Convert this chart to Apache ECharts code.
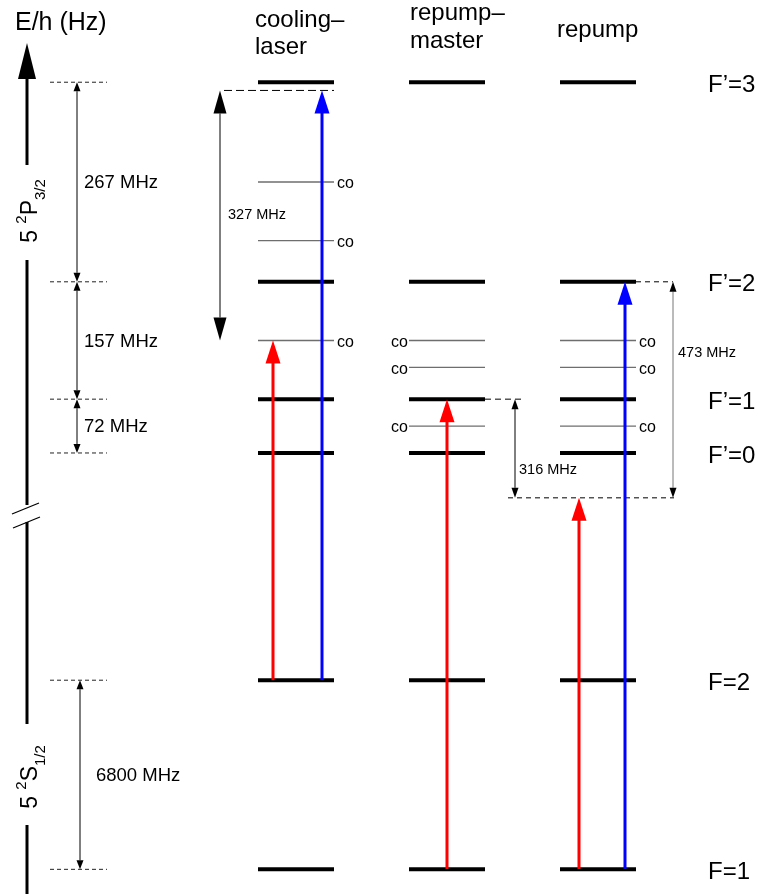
<!DOCTYPE html>
<html>
<head>
<meta charset="utf-8">
<script src="https://cdn.jsdelivr.net/npm/echarts@6/dist/echarts.min.js"></script>
<style>
html, body { margin: 0; padding: 0; background: #fff; }
#chart { width: 760px; height: 894px; }
</style>
</head>
<body>
<div id="chart"></div>
<script>
// energy in diagram units: MHz below F'=3 for 5P3/2, 5S1/2 sits below the axis break
const levelNames = ['F’=3', 'F’=2', 'F’=1', 'F’=0', 'F=2', 'F=1'];
const levelY = [0, -267, -424, -496, -800, -1053];

const columnNames = [['cooling–', 'laser'], ['repump–', 'master'], ['repump']];
const columnX = [296, 447, 598];

// hyperfine spacings on the left
const gapFrom = [0, 1, 2, 4];
const gapTo = [1, 2, 3, 5];
const gapText = ['267 MHz', '157 MHz', '72 MHz', '6800 MHz'];

// crossover resonances (co)
const coY = [-133.5, -212, -345.5, -345.5, -381.5, -460, -345.5, -381.5, -460];
const coCol = [0, 0, 0, 1, 1, 1, 2, 2, 2];

// laser transitions
const laserCol = [0, 0, 1, 2, 2];
const laserFrom = [-800, -800, -1053, -1053, -1053];
const laserTo = [-345.5, -11, -424, -556, -267];
const laserColor = ['#ff0000', '#0000ff', '#ff0000', '#ff0000', '#0000ff'];

// detunings
const detText = ['327 MHz', '316 MHz', '473 MHz'];
const detFrom = [-11, -424, -267];
const detTo = [-345.5, -556, -556];

// layout only
const FONT = '"Liberation Sans", Arial, Helvetica, sans-serif';
const layout = {
  halfLevel: 38,
  labelX: 708,
  guideX: [50, 107],
  gapX: [77, 77, 77, 80],
  laserDx: [-23, 26, 0, -19, 27],
  detX: [220, 515, 673],
  detHead: [[13, 23], [7, 10], [7, 10]],
  detLabel: [[8, 0.5], [4, 0.72], [5, 0.33]],
  detStroke: ['#000', '#000', '#777'],
  // [y, x1, x2, dash] dashed helper lines for detunings
  detDash: [[-11, 224, 334, [8, 4]], [-424, 485, 523, [6, 4]], [-556, 508, 674, [5, 4]], [-267, 636, 673, [5, 4]]]
};

function seg(a, b, stroke, lw, dash) {
  return { type: 'line', shape: { x1: a[0], y1: a[1], x2: b[0], y2: b[1] },
    style: { stroke: stroke, lineWidth: lw, lineDash: dash || null, lineCap: 'butt' } };
}
function head(tip, dir, w, len, fill) {
  // dir -1 points up, +1 points down
  return { type: 'polygon', shape: { points: [[tip[0], tip[1]], [tip[0] - w / 2, tip[1] - dir * len], [tip[0] + w / 2, tip[1] - dir * len]] },
    style: { fill: fill } };
}
function txt(x, y, s, size, align, extra) {
  return { type: 'text', x: x, y: y, style: Object.assign({ text: s, fill: '#000', fontSize: size, fontFamily: FONT,
    align: align || 'left', verticalAlign: 'middle' }, extra || {}) };
}
function dimArrow(x, ya, yb, w, len, stroke) {
  const top = Math.min(ya, yb), bot = Math.max(ya, yb);
  return [seg([x, top + len], [x, bot - len], stroke, 1), head([x, top], -1, w, len, '#000'), head([x, bot], 1, w, len, '#000')];
}
function header(x, y, s) {
  return { type: 'text', silent: true, x: x, y: y, style: { text: s, fontSize: 24, fontFamily: FONT, fill: '#000', verticalAlign: 'middle' } };
}
function stateLabel(y, term, sub) {
  const rich = {
    a: { fontSize: 23, lineHeight: 34, fontFamily: FONT },
    b: { fontSize: 15, lineHeight: 15, verticalAlign: 'top', fontFamily: FONT },
    c: { fontSize: 15, lineHeight: 15, verticalAlign: 'bottom', fontFamily: FONT }
  };
  return { type: 'text', silent: true, x: 31, y: y, rotation: Math.PI / 2,
    style: { text: '{a|5 }{b|2}{a|' + term + '}{c|' + sub + '}', align: 'center', verticalAlign: 'middle', fontFamily: FONT, rich: rich } };
}

const levelData = [];
columnX.forEach(function (cx) { levelY.forEach(function (y) { levelData.push([cx, y]); }); });

const chart = echarts.init(document.getElementById('chart'));

const option = {
  animation: false,
  grid: { left: 0, right: 0, top: 0, bottom: 0 },
  xAxis: { type: 'value', min: 0, max: 760, show: false },
  yAxis: { type: 'value', min: -1086, max: 110, show: false },
  series: [
    { // left dashed guides
      type: 'custom', silent: true, clip: false,
      data: levelY.map(function (y) { return [layout.guideX[0], y]; }),
      renderItem: function (params, api) {
        const a = api.coord([layout.guideX[0], api.value(1)]);
        const b = api.coord([layout.guideX[1], api.value(1)]);
        return seg(a, b, '#222', 1, [4, 3]);
      }
    },
    { // spacing arrows
      type: 'custom', silent: true, clip: false,
      data: gapText.map(function (t, i) { return [layout.gapX[i], levelY[gapFrom[i]], levelY[gapTo[i]], i]; }),
      renderItem: function (params, api) {
        const i = api.value(3);
        const a = api.coord([api.value(0), api.value(1)]);
        const b = api.coord([api.value(0), api.value(2)]);
        const kids = dimArrow(a[0], a[1], b[1], 7, 9, '#000');
        const dx = i === 3 ? 16 : 7;
        kids.push(txt(a[0] + dx, (a[1] + b[1]) / 2 + 1, gapText[i], 18.5));
        return { type: 'group', children: kids };
      }
    },
    { // hyperfine levels
      type: 'custom', silent: true, clip: false,
      data: levelData,
      renderItem: function (params, api) {
        const p = api.coord([api.value(0), api.value(1)]);
        return seg([p[0] - layout.halfLevel, p[1]], [p[0] + layout.halfLevel, p[1]], '#000', 4);
      }
    },
    { // crossover lines
      type: 'custom', silent: true, clip: false,
      data: coY.map(function (y, i) { return [columnX[coCol[i]], y, coCol[i]]; }),
      renderItem: function (params, api) {
        const p = api.coord([api.value(0), api.value(1)]);
        const h = layout.halfLevel;
        const left = api.value(2) === 1;
        return { type: 'group', children: [
          seg([p[0] - h, p[1]], [p[0] + h, p[1]], '#6e6e6e', 1.3),
          left ? txt(p[0] - h - 1, p[1] + 2, 'co', 16, 'right') : txt(p[0] + h + 3, p[1] + 2, 'co', 16, 'left')
        ] };
      }
    },
    { // level labels
      type: 'custom', silent: true, clip: false,
      data: levelY.map(function (y, i) { return [layout.labelX, y, i]; }),
      renderItem: function (params, api) {
        const p = api.coord([api.value(0), api.value(1)]);
        return txt(p[0], p[1] + 3, levelNames[api.value(2)], 24, 'left');
      }
    },
    { // detuning helpers
      type: 'custom', silent: true, clip: false,
      data: detText.map(function (t, i) { return [layout.detX[i], detFrom[i], detTo[i], i]; }),
      renderItem: function (params, api) {
        const i = api.value(3);
        const a = api.coord([api.value(0), api.value(1)]);
        const b = api.coord([api.value(0), api.value(2)]);
        const hs = layout.detHead[i];
        const kids = dimArrow(a[0], a[1], b[1], hs[0], hs[1], layout.detStroke[i]);
        const lb = layout.detLabel[i];
        kids.push(txt(a[0] + lb[0], a[1] + (b[1] - a[1]) * lb[1], detText[i], 14.5));
        if (i === 0) {
          layout.detDash.forEach(function (d) {
            const p1 = api.coord([d[1], d[0]]);
            const p2 = api.coord([d[2], d[0]]);
            kids.push(seg(p1, p2, '#000', 1, d[3]));
          });
        }
        return { type: 'group', children: kids };
      }
    },
    { // laser transitions
      type: 'custom', silent: true, clip: false,
      data: laserCol.map(function (c, i) { return [columnX[c], laserFrom[i], laserTo[i], i]; }),
      renderItem: function (params, api) {
        const i = api.value(3);
        const x = api.coord([api.value(0), 0])[0] + layout.laserDx[i];
        const y0 = api.coord([0, api.value(1)])[1];
        const y1 = api.coord([0, api.value(2)])[1];
        return { type: 'group', children: [
          seg([x, y0], [x, y1 + 20], laserColor[i], 3),
          head([x, y1], -1, 15, 23, laserColor[i])
        ] };
      }
    }
  ],
  graphic: [
    // energy axis with break
    { type: 'polygon', silent: true, shape: { points: [[27, 43], [18, 79], [36, 79]] }, style: { fill: '#000' } },
    { type: 'line', silent: true, shape: { x1: 27, y1: 77, x2: 27, y2: 165 }, style: { stroke: '#000', lineWidth: 3 } },
    { type: 'line', silent: true, shape: { x1: 27, y1: 260, x2: 27, y2: 505 }, style: { stroke: '#000', lineWidth: 3 } },
    { type: 'line', silent: true, shape: { x1: 27, y1: 522, x2: 27, y2: 724 }, style: { stroke: '#000', lineWidth: 3 } },
    { type: 'line', silent: true, shape: { x1: 27, y1: 825, x2: 27, y2: 894 }, style: { stroke: '#000', lineWidth: 3 } },
    { type: 'line', silent: true, shape: { x1: 12, y1: 514, x2: 39, y2: 503 }, style: { stroke: '#000', lineWidth: 1.2 } },
    { type: 'line', silent: true, shape: { x1: 13, y1: 528, x2: 40, y2: 517 }, style: { stroke: '#000', lineWidth: 1.2 } },
    stateLabel(211, 'P', '3/2'),
    stateLabel(777, 'S', '1/2'),
    // headers
    { type: 'text', silent: true, x: 15, y: 23, style: { text: 'E/h (Hz)', fontSize: 25, fontFamily: FONT, fill: '#000', verticalAlign: 'middle' } },
    header(255, 20, columnNames[0][0]),
    header(255, 47, columnNames[0][1]),
    header(410, 13, columnNames[1][0]),
    header(410, 41, columnNames[1][1]),
    header(557, 30, columnNames[2][0])
  ]
};

chart.setOption(option);
</script>
</body>
</html>
